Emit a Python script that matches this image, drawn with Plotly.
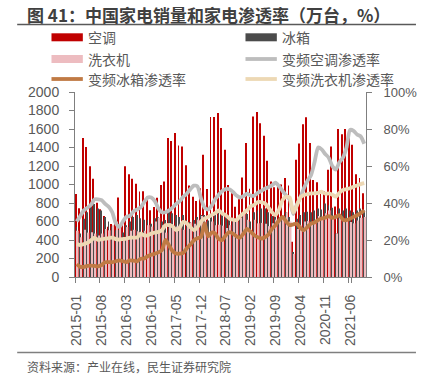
import plotly.graph_objects as go

# ---------------- data ----------------
MONTHS = [f"{y}-{m:02d}" for y in range(2015, 2022) for m in range(1, 13)][:82]  # 2015-01 .. 2021-10

AC_SALES = [898, 743, 1504, 1406, 1196, 1062, 804, 732, 659, 543, 572, 598,
            859, 580, 1196, 1112, 1062, 1007, 924, 926, 867, 722, 758, 856,
            995, 1032, 1503, 1470, 1557, 1421, 1412, 1209, 990, 868, 821, 960,
            1321, 951, 1731, 1731, 1772, 1611, 1376, 995, 905, 760, 840, 1075,
            1449, 955, 1735, 1783, 1662, 1528, 1256, 1032, 970, 990, 1000, 1070,
            990, 380, 1267, 1443, 1652, 1727, 1448, 1050, 1025, 906, 930, 1160,
            1412, 761, 1600, 1543, 1600, 1539, 1430, 1110, 1070, 905]

FRIDGE_SALES = [540, 470, 630, 700, 780, 790, 740, 720, 650, 600, 545, 505,
                510, 480, 560, 600, 650, 670, 635, 620, 615, 575, 635, 645,
                600, 615, 720, 690, 670, 650, 670, 615, 595, 615, 650, 670,
                670, 610, 650, 700, 705, 690, 660, 650, 630, 610, 650, 690,
                680, 600, 700, 720, 740, 740, 700, 660, 650, 640, 660, 700,
                650, 270, 630, 670, 700, 705, 700, 720, 740, 730, 795, 775,
                750, 470, 740, 720, 740, 720, 700, 720, 740, 720]

WASHER_SALES = [500, 430, 510, 480, 485, 470, 450, 470, 520, 505, 560, 600,
                530, 420, 540, 500, 510, 495, 480, 500, 560, 545, 600, 640,
                560, 480, 580, 540, 545, 540, 510, 540, 590, 575, 620, 660,
                600, 470, 600, 560, 565, 555, 530, 560, 610, 600, 640, 680,
                620, 480, 620, 580, 585, 575, 550, 580, 620, 615, 660, 700,
                600, 250, 520, 560, 600, 605, 580, 600, 660, 650, 690, 720,
                650, 470, 640, 600, 605, 595, 580, 610, 640, 650]

AC_INV_RATE = [30, 33, 36, 37.5, 39, 42, 42, 41.5, 39.5, 38, 35, 29,
               27, 30, 32.5, 33, 35.5, 36.5, 37.6, 40.5, 43, 43, 41, 37,
               35, 35, 36, 37.5, 39.5, 41, 43.4, 45, 47.5, 49.4, 49, 42.5,
               37.5, 36.5, 38.5, 42, 44.5, 46.5, 47.5, 47.4, 46, 44, 43, 43.8,
               45, 44, 44, 45.5, 46.5, 47.8, 48.5, 49.5, 51, 49, 46.5, 44,
               42, 34, 39, 43, 48, 52, 55, 62, 70, 69, 66.5, 64.5,
               60, 58, 62, 64.5, 70, 79.5, 79, 77, 76, 72]

FRIDGE_INV_RATE = [7, 5.5, 5.5, 6, 6.2, 6, 5.8, 6.5, 8, 8, 8, 8.5,
                   9, 8.5, 8, 9, 8.8, 8.5, 9.9, 10, 11.2, 12, 12.6, 13.3,
                   14.5, 20, 17, 14, 12.7, 12.6, 13, 15.5, 17.5, 19.8, 21, 21.5,
                   29, 22, 24, 23.5, 20.5, 20, 22.6, 24.3, 23.5, 22, 21.3, 23.5,
                   26, 24.5, 22.6, 21.5, 20.8, 21.5, 23, 26, 28, 30.5, 32.5, 30,
                   28, 28.5, 28.9, 26.5, 25.3, 27, 28.9, 29.5, 30.7, 31.6, 32, 32.9,
                   32, 32.5, 33.4, 31, 30.7, 31.5, 32.5, 33.4, 34.5, 36]

WASHER_INV_RATE = [18, 17.2, 17.8, 18.5, 19.8, 21.3, 20, 20.5, 20.7, 21, 21.3, 20.5,
                   20.2, 20.5, 20.8, 21.3, 21.3, 21.3, 23.5, 22.5, 22.5, 23.5, 24, 24.4,
                   25.3, 28, 28, 27.4, 25.3, 26.7, 29.8, 29, 27, 25.3, 26.9, 30,
                   31.6, 32.5, 33.5, 34.5, 36, 34.3, 33.4, 31.6, 31, 30.7, 32.9, 34.5,
                   36.1, 38.3, 38.9, 40.5, 40.5, 39.8, 37.6, 35, 33.4, 36.5, 41.6, 43.4,
                   43, 35, 38.5, 43, 44.3, 44.8, 45.2, 45.2, 45.5, 46.1, 45, 45.2,
                   44.5, 43.4, 45.5, 47, 47.5, 48, 48.8, 49.5, 50.2, 50.7]

TICK_LABELS = ["2015-01", "2015-08", "2016-03", "2016-10", "2017-05", "2017-12",
               "2018-07", "2019-02", "2019-09", "2020-04", "2020-11", "2021-06"]

NAMES = ["空调", "冰箱", "洗衣机", "变频空调渗透率", "变频冰箱渗透率", "变频洗衣机渗透率"]
TITLE = "图 41：中国家电销量和家电渗透率（万台，%）"
SOURCE = "资料来源：产业在线，民生证券研究院"

# ---------------- style ----------------
C_RED, C_DARK, C_PINK = "#C00000", "#4B4B4B", "#EDBCC0"
C_GRAY, C_BROWN, C_BEIGE = "#BDBDBD", "#C07A44", "#EDD8B4"
TXT = "#595959"
AX = "#7F7F7F"
FONT = "Liberation Sans, Noto Sans CJK SC, sans-serif"
CJK = "Noto Sans CJK SC, sans-serif"

W, H = 429, 381
PL, PR, PT, PB = 75, 372, 92, 277


def px(x):
    return (x - PL) / (PR - PL)


def py(y):
    return (PB - y) / (PB - PT)


fig = go.Figure()
# bar slots: red / dark / pink inside each month slot
fig.add_bar(x=MONTHS, y=AC_SALES, name=NAMES[0], marker_color=C_RED, marker_line_width=0,
            width=0.26, offset=-0.46)
fig.add_bar(x=MONTHS, y=FRIDGE_SALES, name=NAMES[1], marker_color=C_DARK, marker_line_width=0,
            width=0.26, offset=-0.2)
fig.add_bar(x=MONTHS, y=WASHER_SALES, name=NAMES[2], marker_color=C_PINK, marker_line_width=0,
            width=0.44, offset=0.06)
for vals, nm, col in [(AC_INV_RATE, NAMES[3], C_GRAY),
                      (FRIDGE_INV_RATE, NAMES[4], C_BROWN),
                      (WASHER_INV_RATE, NAMES[5], C_BEIGE)]:
    fig.add_scatter(x=MONTHS, y=vals, name=nm, yaxis="y2", mode="lines",
                    line=dict(color=col, width=3.8, shape="spline", smoothing=0.6))

fig.update_traces(showlegend=False)

shapes = []
annotations = []

# title + rule
annotations.append(dict(text="<b>" + TITLE + "</b>", x=px(24), y=py(14), xref="paper", yref="paper",
                        xanchor="left", yanchor="middle", showarrow=False,
                        font=dict(size=17, color="#404040", family=CJK)))
shapes.append(dict(type="line", xref="paper", yref="paper", x0=px(16), x1=px(423), y0=py(24.5), y1=py(24.5),
                   line=dict(color="#595959", width=1.5)))
# footer rule + source
shapes.append(dict(type="line", xref="paper", yref="paper", x0=px(16), x1=px(423), y0=py(352.5), y1=py(352.5),
                   line=dict(color="#7F7F7F", width=1.5)))
annotations.append(dict(text=SOURCE, x=px(24), y=py(366), xref="paper", yref="paper",
                        xanchor="left", yanchor="middle", showarrow=False,
                        font=dict(size=12, color=TXT, family=CJK)))

# manual legend
legend_items = [
    (NAMES[0], "bar", C_RED, 51, 37.3),
    (NAMES[1], "bar", C_DARK, 249, 37.3),
    (NAMES[2], "bar", C_PINK, 51, 59.0),
    (NAMES[3], "line", C_GRAY, 249, 59.0),
    (NAMES[4], "line", C_BROWN, 51, 79.0),
    (NAMES[5], "line", C_BEIGE, 249, 79.0),
]
for nm, kind, col, x0, yc in legend_items:
    if kind == "bar":
        shapes.append(dict(type="rect", xref="paper", yref="paper", x0=px(x0), x1=px(x0 + 32),
                           y0=py(yc + 4), y1=py(yc - 4), fillcolor=col, line=dict(width=0)))
    else:
        shapes.append(dict(type="line", xref="paper", yref="paper", x0=px(x0), x1=px(x0 + 32),
                           y0=py(yc), y1=py(yc), line=dict(color=col, width=3.8)))
    annotations.append(dict(text=nm, x=px(x0 + 35), y=py(yc), xref="paper", yref="paper",
                            xanchor="left", yanchor="middle", showarrow=False,
                            font=dict(size=14, color=TXT, family=CJK)))

fig.update_layout(
    width=W, height=H,
    margin=dict(l=PL, r=W - PR, t=PT, b=H - PB, pad=0),
    paper_bgcolor="white", plot_bgcolor="white",
    font=dict(family=FONT, color=TXT),
    barmode="overlay",
    showlegend=False,
    shapes=shapes, annotations=annotations,
    xaxis=dict(type="category", range=[-0.5, len(MONTHS) - 0.5],
               tickmode="array", tickvals=TICK_LABELS, ticktext=TICK_LABELS,
               tickson="boundaries", ticks="outside", ticklen=5, tickcolor=AX,
               tickangle=-90, tickfont=dict(size=14, color=TXT), ticklabelstandoff=11,
               showline=True, linecolor=AX, linewidth=1, showgrid=False, zeroline=False),
    yaxis=dict(range=[0, 2000], dtick=200, ticks="outside", ticklen=5, tickcolor=AX,
               showline=True, linecolor=AX, linewidth=1, showgrid=False, zeroline=False,
               tickfont=dict(size=14, color=TXT), ticklabelstandoff=7),
    yaxis2=dict(range=[0, 100], dtick=20, ticksuffix="%", overlaying="y", side="right",
                ticks="outside", ticklen=5, tickcolor=AX,
                showline=True, linecolor=AX, linewidth=1, showgrid=False, zeroline=False,
                tickfont=dict(size=13, color=TXT), ticklabelstandoff=9),
)

fig.write_html("out.html", config={"displayModeBar": False},
               post_script="document.body.style.margin='0px';")
